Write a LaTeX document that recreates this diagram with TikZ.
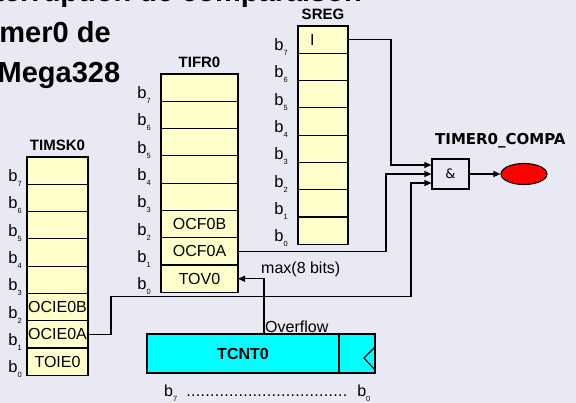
\documentclass[tikz,border=0pt]{standalone}
\usepackage{fontspec}
\setmainfont{Liberation Sans}
\newfontfamily\dejavu{DejaVu Sans}
\usetikzlibrary{positioning,shapes.geometric,arrows.meta,calc}
\definecolor{slidebg}{RGB}{233,233,243}
\definecolor{regfill}{RGB}{255,255,204}
\definecolor{cntfill}{RGB}{0,255,255}
\newcommand{\bsub}[1]{b\raisebox{-5pt}{\fontsize{7.5}{7.5}\selectfont #1}}
\tikzset{
  cell/.style    = {rectangle, draw=black, line width=1.2pt, fill=regfill,
                    outer sep=0pt, inner sep=0pt, minimum height=27.3pt,
                    font=\fontsize{16}{16}\selectfont},
  mcell/.style   = {cell, minimum width=61pt},
  fcell/.style   = {cell, minimum width=77pt},
  scell/.style   = {cell, minimum width=50pt},
  bit/.style     = {anchor=base east, inner sep=0pt, font=\fontsize{16.5}{16.5}\selectfont},
  regname/.style = {inner sep=1pt, font=\fontsize{15}{15}\selectfont\bfseries},
  lbl/.style     = {inner sep=1pt, font=\fontsize{16}{16}\selectfont},
  title/.style   = {inner sep=0pt, font=\fontsize{29}{29}\selectfont\bfseries},
  counter/.style = {rectangle, draw=black, line width=1.2pt, fill=cntfill,
                    outer sep=0pt, minimum height=39pt,
                    font=\fontsize{16}{16}\selectfont\bfseries},
  gatebox/.style = {rectangle, draw=black, line width=1.1pt, minimum width=37pt,
                    minimum height=30pt, font=\fontsize{13}{13}\selectfont\dejavu},
  irqnode/.style = {ellipse, draw=black, line width=1.1pt, fill=red,
                    minimum width=46pt, minimum height=21pt},
  wire/.style    = {-{Triangle[length=7pt,width=6pt]}, line width=1.1pt},
}

\begin{document}
\begin{tikzpicture}[x=1pt, y=-1pt, node distance=0pt]

      \useasboundingbox (0,0) rectangle (576,403);
      \clip (0,0) rectangle (576,403);
      \fill[slidebg] (0,0) rectangle (576,403);

      % title, cut by the frame
      \node[title, anchor=base east] (t1) at (362,2) {Interruption de comparaison};
      \node[title, anchor=base west] (t2) at (-26,43) {Timer0 de};
      \node[title, anchor=base west] (t3) at (-39,83) {ATMega328};

      % TIMSK0
      \node[mcell] (m7) at (57.5,170.65) {};      \node[bit] (mb7) at ($(m7.west)+(-5,11)$) {\bsub{7}};
      \node[mcell, below=of m7] (m6) {};          \node[bit] (mb6) at ($(m6.west)+(-5,11)$) {\bsub{6}};
      \node[mcell, below=of m6] (m5) {};          \node[bit] (mb5) at ($(m5.west)+(-5,11)$) {\bsub{5}};
      \node[mcell, below=of m5] (m4) {};          \node[bit] (mb4) at ($(m4.west)+(-5,11)$) {\bsub{4}};
      \node[mcell, below=of m4] (m3) {};          \node[bit] (mb3) at ($(m3.west)+(-5,11)$) {\bsub{3}};
      \node[mcell, below=of m3] (m2) {OCIE0B};    \node[bit] (mb2) at ($(m2.west)+(-5,11)$) {\bsub{2}};
      \node[mcell, below=of m2] (m1) {OCIE0A};    \node[bit] (mb1) at ($(m1.west)+(-5,11)$) {\bsub{1}};
      \node[mcell, below=of m1] (m0) {TOIE0};     \node[bit] (mb0) at ($(m0.west)+(-5,11)$) {\bsub{0}};
      \node[regname, above=5pt of m7] (timsk) {TIMSK0};

      % TIFR0
      \node[fcell] (f7) at (199.5,87.65) {};      \node[bit] (fb7) at ($(f7.west)+(-10,11)$) {\bsub{7}};
      \node[fcell, below=of f7] (f6) {};          \node[bit] (fb6) at ($(f6.west)+(-10,11)$) {\bsub{6}};
      \node[fcell, below=of f6] (f5) {};          \node[bit] (fb5) at ($(f5.west)+(-10,11)$) {\bsub{5}};
      \node[fcell, below=of f5] (f4) {};          \node[bit] (fb4) at ($(f4.west)+(-10,11)$) {\bsub{4}};
      \node[fcell, below=of f4] (f3) {};          \node[bit] (fb3) at ($(f3.west)+(-10,11)$) {\bsub{3}};
      \node[fcell, below=of f3] (f2) {OCF0B};     \node[bit] (fb2) at ($(f2.west)+(-10,11)$) {\bsub{2}};
      \node[fcell, below=of f2] (f1) {OCF0A};     \node[bit] (fb1) at ($(f1.west)+(-10,11)$) {\bsub{1}};
      \node[fcell, below=of f1] (f0) {TOV0};      \node[bit] (fb0) at ($(f0.west)+(-10,11)$) {\bsub{0}};
      \node[regname, above=5pt of f7] (tifr) {TIFR0};

      % SREG
      \node[scell] (s7) at (323,39.65) {};        \node[bit] (sb7) at ($(s7.west)+(-10,11)$) {\bsub{7}};
      \node[scell, below=of s7] (s6) {};          \node[bit] (sb6) at ($(s6.west)+(-10,11)$) {\bsub{6}};
      \node[scell, below=of s6] (s5) {};          \node[bit] (sb5) at ($(s5.west)+(-10,11)$) {\bsub{5}};
      \node[scell, below=of s5] (s4) {};          \node[bit] (sb4) at ($(s4.west)+(-10,11)$) {\bsub{4}};
      \node[scell, below=of s4] (s3) {};          \node[bit] (sb3) at ($(s3.west)+(-10,11)$) {\bsub{3}};
      \node[scell, below=of s3] (s2) {};          \node[bit] (sb2) at ($(s2.west)+(-10,11)$) {\bsub{2}};
      \node[scell, below=of s2] (s1) {};          \node[bit] (sb1) at ($(s1.west)+(-10,11)$) {\bsub{1}};
      \node[scell, below=of s1] (s0) {};          \node[bit] (sb0) at ($(s0.west)+(-10,11)$) {\bsub{0}};
      \node[lbl, anchor=west, inner sep=0pt] (sreg-i) at ($(s7.west)+(12,0)$) {I};
      \node[regname, above=5pt of s7] (sreg) {SREG};

      % AND gate and interrupt
      \node[gatebox] (gate) at (450.5,174) {\&};
      \node[irqnode] (irq) at (524,174) {};
      \node[inner sep=0pt, anchor=base west, font=\fontsize{15}{15}\selectfont\dejavu\bfseries]
           (irqname) at (435,145) {TIMER0\_COMPA};
      \draw[wire] (gate) -- (irq);

      \draw[wire] (s7.east) -- ++(43,0) |- ($(gate.west)+(0,-9)$);
      \draw[wire] (f1.east) -- ++(148,0) |- (gate.west);
      \draw[wire] (m1.east) -- ++(23,0) -- ++(0,-38) -- ++(300,0) |- ($(gate.west)+(0,9)$);

      % counter
      \node[counter, minimum width=192pt] (tcnt) at (243,353.5) {TCNT0};
      \node[counter, minimum width=36pt, right=of tcnt] (clk) {};
      \draw[line width=1.1pt] ($(clk.east)+(0,-6.5)$) -- ++(-11,11) -- ++(11,12);

      \coordinate (ovf) at ($(tcnt.north)+(21,0)$);
      \draw[wire] (ovf) |- (f0.east);
      \node[lbl, anchor=south west] (ovflbl) at (ovf) {Overflow};
      \node[lbl, anchor=base west, inner sep=0pt] (maxlbl) at (261,274) {max(8 bits)};

      \node[lbl, anchor=base west, inner sep=0pt] (tbits) at (164,397)
           {\bsub{7}\hspace{9pt}\makebox[161pt]{\xleaders\hbox to 4.7pt{\hss.\hss}\hfill}\hspace{10pt}\bsub{0}};

    \end{tikzpicture}
\end{document}
